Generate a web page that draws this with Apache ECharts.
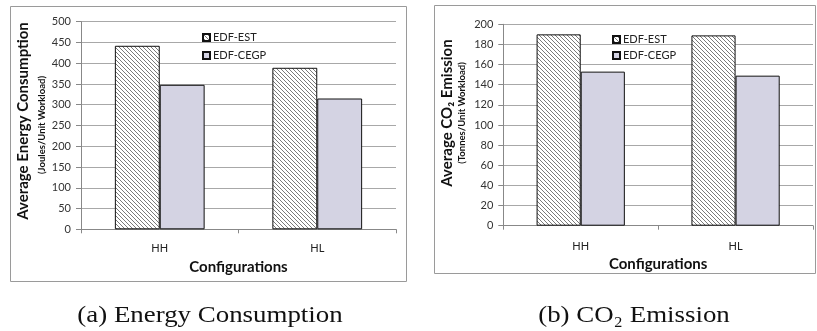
<!DOCTYPE html>
<html>
<head>
<meta charset="utf-8">
<script src="https://cdn.jsdelivr.net/npm/echarts@6/dist/echarts.min.js"></script>
<style>
html,body{margin:0;padding:0;background:#fff;}
#main{width:817px;height:331px;}
</style>
</head>
<body>
<div id="main"></div>
<script>
var configs = ['HH', 'HL'];
var energyEST = [442, 389];
var energyCEGP = [348, 315];
var co2EST = [190, 189];
var co2CEGP = [153, 149];
var energyTicks = [0, 500, 50];
var co2Ticks = [0, 200, 20];

// hatch tile for EDF-EST
var tile = document.createElement('canvas');
tile.width = 4; tile.height = 4;
var ctx = tile.getContext('2d');
ctx.fillStyle = '#fff';
ctx.fillRect(0, 0, 4, 4);
ctx.strokeStyle = '#7a7a7a';
ctx.lineWidth = 1;
ctx.beginPath();
ctx.moveTo(-1, -1); ctx.lineTo(5, 5);
ctx.moveTo(-1, 3); ctx.lineTo(1, 5);
ctx.moveTo(3, -1); ctx.lineTo(5, 1);
ctx.stroke();
var hatch = {image: tile, repeat: 'repeat'};
var lavender = '#d4d3e3';

var font = 'Lato, "Open Sans", sans-serif';
var serif = '"Liberation Serif", "DejaVu Serif", serif';

function yAx(idx, t) {
  return {
    type: 'value', gridIndex: idx, min: t[0], max: t[1], interval: t[2],
    axisLine: {show: true, lineStyle: {color: '#888'}},
    axisTick: {show: true, length: 5, lineStyle: {color: '#888'}},
    axisLabel: {color: '#333', fontSize: 11, fontFamily: font, margin: 10},
    splitLine: {lineStyle: {color: '#a8a8a8', width: 1}}
  };
}
function xAx(idx, lm, ng) {
  return {
    type: 'category', gridIndex: idx, data: configs,
    axisLine: {lineStyle: {color: '#888'}},
    axisTick: {show: true, length: 4, lineStyle: {color: '#888'}},
    axisLabel: {color: '#222', fontSize: 11, fontFamily: font, margin: lm},
    name: 'Configurations', nameLocation: 'middle', nameGap: ng,
    nameTextStyle: {color: '#111', fontSize: 15, fontWeight: 'bold', fontFamily: font}
  };
}
function bar(name, data, idx, color) {
  return {
    name: name, type: 'bar', xAxisIndex: idx, yAxisIndex: idx, data: data,
    barGap: '0%', barCategoryGap: '43%',
    itemStyle: {color: color, borderColor: '#111', borderWidth: 1}
  };
}
function legend(left, top, gap) {
  return {
    orient: 'vertical', left: left, top: top, icon: 'rect',
    itemWidth: 7, itemHeight: 7, itemGap: gap,
    textStyle: {fontSize: 11, color: '#222', fontFamily: font, padding: [0, 0, 0, -2]},
    data: ['EDF-EST', 'EDF-CEGP']
  };
}

var myChart = echarts.init(document.getElementById('main'));
var option = {
  animation: false,
  textStyle: {fontFamily: font},
  grid: [
    {left: 81, right: 421, top: 21.7, bottom: 101.7},
    {left: 503.3, right: 4, top: 24.3, bottom: 105.3}
  ],
  xAxis: [xAx(0, 14, 28), xAx(1, 15, 26)],
  yAxis: [yAx(0, energyTicks), yAx(1, co2Ticks)],
  legend: [legend(197, 27, 7), legend(607, 29, 5)],
  series: [
    bar('EDF-EST', energyEST, 0, hatch),
    bar('EDF-CEGP', energyCEGP, 0, lavender),
    bar('EDF-EST', co2EST, 1, hatch),
    bar('EDF-CEGP', co2CEGP, 1, lavender)
  ],
  graphic: [
    {type: 'rect', shape: {x: 10.5, y: 6.5, width: 396, height: 275}, z: -1,
     style: {fill: 'none', stroke: '#9a9a9a', lineWidth: 1}},
    {type: 'rect', shape: {x: 434.5, y: 5.5, width: 381, height: 268}, z: -1,
     style: {fill: 'none', stroke: '#9a9a9a', lineWidth: 1}},
    {type: 'text', x: 23, y: 121, rotation: Math.PI / 2,
     style: {text: 'Average Energy Consumption', fill: '#111', font: 'bold 15px ' + font,
             textAlign: 'center', textVerticalAlign: 'middle'}},
    {type: 'text', x: 42, y: 125, rotation: Math.PI / 2,
     style: {text: '(Joules/Unit Workload)', fill: '#111', font: 'bold 9.5px ' + font,
             textAlign: 'center', textVerticalAlign: 'middle'}},
    {type: 'text', x: 447, y: 113, rotation: Math.PI / 2,
     style: {text: 'Average CO\u2082 Emission', fill: '#111', font: 'bold 15px ' + font,
             textAlign: 'center', textVerticalAlign: 'middle'}},
    {type: 'text', x: 462, y: 113, rotation: Math.PI / 2,
     style: {text: '(Tonnes/Unit Workload)', fill: '#111', font: 'bold 9.5px ' + font,
             textAlign: 'center', textVerticalAlign: 'middle'}},
    {type: 'text', x: 210, y: 316, scaleX: 1.12,
     style: {text: '(a) Energy Consumption', fill: '#111', font: '24px ' + serif,
             textAlign: 'center', textVerticalAlign: 'middle'}},
    {type: 'text', x: 634, y: 316, scaleX: 1.12,
     style: {text: '(b) CO\u2082 Emission', fill: '#111', font: '24px ' + serif,
             textAlign: 'center', textVerticalAlign: 'middle'}}
  ]
};
myChart.setOption(option);
</script>
</body>
</html>
